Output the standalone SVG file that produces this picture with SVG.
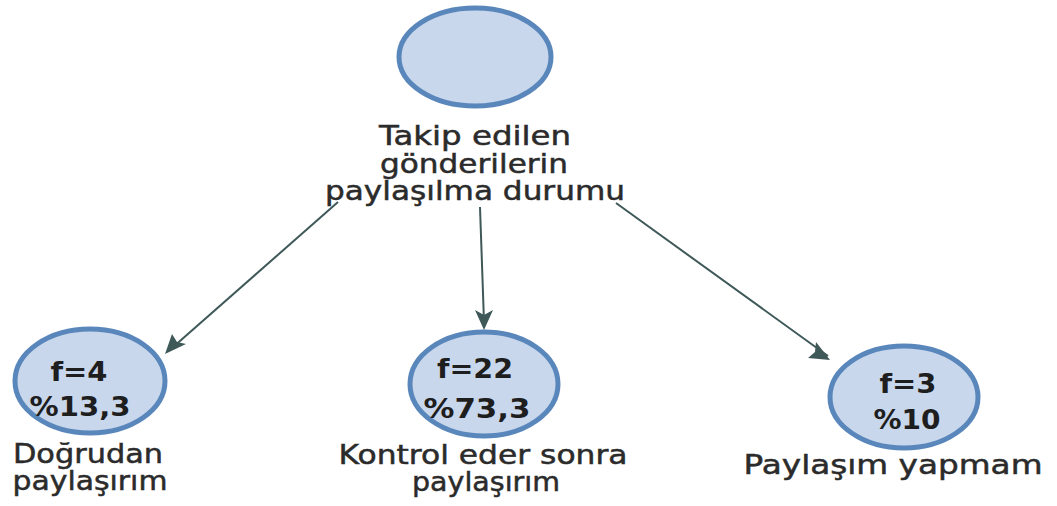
<svg xmlns="http://www.w3.org/2000/svg" width="1057" height="506" viewBox="0 0 1057 506">
<defs>
<style>
.node{fill:#c8d7ec;stroke:#5a87bb;stroke-width:5}
.lbl{font-family:"DejaVu Sans",Verdana,sans-serif;font-size:27px;fill:#2b2b2b;stroke:#2b2b2b;stroke-width:0.5;text-anchor:middle}
.val{font-family:"DejaVu Sans","Liberation Sans",sans-serif;font-size:27px;font-weight:bold;fill:#1e1e1e;text-anchor:middle}
.edge{stroke:#3f5858;stroke-width:2;fill:none}
.head{fill:#3f5858}
</style>
</defs>
<rect width="1057" height="506" fill="#ffffff"/>
<g id="connectors">
<line class="edge" x1="338" y1="202" x2="172" y2="348"/>
<line class="edge" x1="480" y1="207" x2="484" y2="322"/>
<line class="edge" x1="616" y1="203" x2="828" y2="356"/>
<path class="head" d="M165,354 L172,334 L177,342 L186,344 z"/>
<path class="head" d="M484,330 L475,310 L484,315 L493,310 z"/>
<path class="head" d="M830,360 L808,358 L815,352 L816,342 z"/>
</g>
<g id="root">
<ellipse class="node" cx="475" cy="57" rx="76" ry="49"/>
<text class="lbl" x="475" y="145" textLength="192" lengthAdjust="spacingAndGlyphs">Takip edilen</text>
<text class="lbl" x="474" y="173" textLength="188" lengthAdjust="spacingAndGlyphs">gönderilerin</text>
<text class="lbl" x="475" y="200" textLength="300" lengthAdjust="spacingAndGlyphs">paylaşılma durumu</text>
</g>
<g id="n1">
<ellipse class="node" cx="90" cy="381" rx="75" ry="52"/>
<text class="val" x="79" y="381" textLength="57" lengthAdjust="spacingAndGlyphs">f=4</text>
<text class="val" x="80" y="416" textLength="101" lengthAdjust="spacingAndGlyphs">%13,3</text>
<text class="lbl" x="88" y="463" textLength="150" lengthAdjust="spacingAndGlyphs">Doğrudan</text>
<text class="lbl" x="90" y="490" textLength="155" lengthAdjust="spacingAndGlyphs">paylaşırım</text>
</g>
<g id="n2">
<ellipse class="node" cx="484" cy="384" rx="74" ry="52"/>
<text class="val" x="475" y="378" textLength="76" lengthAdjust="spacingAndGlyphs">f=22</text>
<text class="val" x="477" y="418" textLength="107" lengthAdjust="spacingAndGlyphs">%73,3</text>
<text class="lbl" x="483" y="464" textLength="289" lengthAdjust="spacingAndGlyphs">Kontrol eder sonra</text>
<text class="lbl" x="486" y="491" textLength="148" lengthAdjust="spacingAndGlyphs">paylaşırım</text>
</g>
<g id="n3">
<ellipse class="node" cx="904" cy="397" rx="74" ry="51"/>
<text class="val" x="908" y="393" textLength="57" lengthAdjust="spacingAndGlyphs">f=3</text>
<text class="val" x="907" y="429" textLength="67" lengthAdjust="spacingAndGlyphs">%10</text>
<text class="lbl" x="893" y="474" textLength="299" lengthAdjust="spacingAndGlyphs">Paylaşım yapmam</text>
</g>
</svg>
